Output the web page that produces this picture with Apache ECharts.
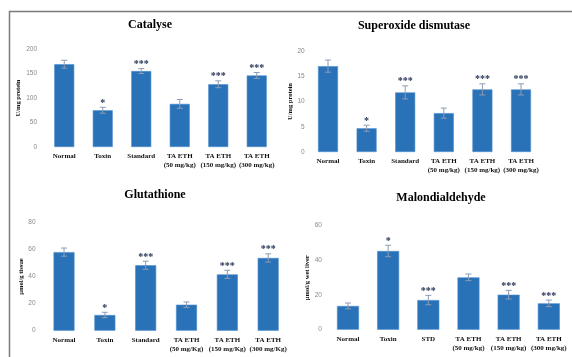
<!DOCTYPE html>
<html>
<head>
<meta charset="utf-8">
<script src="https://cdn.jsdelivr.net/npm/echarts@6/dist/echarts.min.js"></script>
<style>
  html, body { margin: 0; padding: 0; background: #fff; }
  #chartmain { width: 572px; height: 357px; }
</style>
</head>
<body>
<div id="chartmain"></div>
<script>
// groups on the x axis
var catsStd = ['Normal', 'Toxin', 'Standard', 'TA ETH\n(50 mg/kg)', 'TA ETH\n(150 mg/kg)', 'TA ETH\n(300 mg/kg)'];
var catsGsh = ['Normal', 'Toxin', 'Standard', 'TA ETH\n(50 mg/Kg)', 'TA ETH\n(150 mg/Kg)', 'TA ETH\n(300 mg/Kg)'];
var catsMda = ['Normal', 'Toxin', 'STD', 'TA ETH\n(50 mg/kg)', 'TA ETH\n(150 mg/kg)', 'TA ETH\n(300 mg/kg)'];

// means and errors
var catalase = [169, 75, 155, 88, 128, 146];
var catalaseErr = [8, 6, 5, 9, 7, 6];
var sod = [17.0, 4.7, 11.8, 7.7, 12.4, 12.4];
var sodErr = [1.2, 0.6, 1.3, 1.0, 1.1, 1.1];
var gsh = [58, 11.6, 48.3, 19.2, 41.6, 53.7];
var gshErr = [3, 2, 3, 2, 3, 3];
var mda = [13.7, 45.4, 17.1, 30.2, 20.2, 15.2];
var mdaErr = [1.7, 3.3, 2.7, 1.9, 2.5, 1.9];

// significance marks
var stars = ['', '*', '***', '', '***', '***'];

// y axis ticks: [max, interval]
var catalaseTicks = [200, 50];
var sodTicks = [20, 5];
var gshTicks = [80, 20];
var mdaTicks = [60, 20];

var serif = '"Liberation Serif", "Times New Roman", serif';
var barColor = '#2a72b8';

function errRender(params, api) {
    var x = api.value(0), v = api.value(1), e = api.value(2);
    var hi = api.coord([x, v + e]);
    var lo = api.coord([x, v - e]);
    var w = 3;
    var st = { stroke: '#8e9cb2', lineWidth: 1 };
    var ch = [
        { type: 'line', shape: { x1: hi[0], y1: hi[1], x2: lo[0], y2: lo[1] }, style: st },
        { type: 'line', shape: { x1: hi[0] - w, y1: hi[1], x2: hi[0] + w, y2: hi[1] }, style: st },
        { type: 'line', shape: { x1: lo[0] - w, y1: lo[1], x2: lo[0] + w, y2: lo[1] }, style: st }
    ];
    var s = stars[params.dataIndex];
    if (s) {
        ch.push({
            type: 'text',
            style: {
                text: s, x: hi[0], y: hi[1] + 1, align: 'center', verticalAlign: 'bottom',
                fill: '#1f2d4f', font: 'bold 10px ' + serif
            }
        });
    }
    return { type: 'group', children: ch };
}

var panels = [
    { title: 'Catalyse', tx: 150, ty: 19, name: 'U/mg protein', gap: 22, lm: 8,
      grid: [45, 49, 231, 98], cats: catsStd, vals: catalase, errs: catalaseErr, ticks: catalaseTicks, bw: 20 },
    { title: 'Superoxide dismutase', tx: 414, ty: 20, name: 'U/mg protein', gap: 14, lm: 4,
      grid: [308.7, 51, 231.6, 101], cats: catsStd, vals: sod, errs: sodErr, ticks: sodTicks, bw: 20 },
    { title: 'Glutathione', tx: 155, ty: 189, name: 'µmol/g tissue', gap: 17, lm: 8,
      grid: [43.6, 222.3, 245, 108.4], cats: catsGsh, vals: gsh, errs: gshErr, ticks: gshTicks, bw: 21 },
    { title: 'Malondialdehyde', tx: 441, ty: 192, name: 'µmol/g wet liver', gap: 17, lm: 6,
      grid: [327.9, 225.7, 241, 104], cats: catsMda, vals: mda, errs: mdaErr, ticks: mdaTicks, bw: 22 }
];

var option = {
    animation: false,
    title: [], grid: [], xAxis: [], yAxis: [], series: [],
    graphic: [
        { type: 'line', shape: { x1: 9, y1: 11.5, x2: 572, y2: 11.5 }, style: { stroke: '#7a7a7a', lineWidth: 1.5 } },
        { type: 'line', shape: { x1: 9.5, y1: 11, x2: 9.5, y2: 357 }, style: { stroke: '#7a7a7a', lineWidth: 1.5 } }
    ]
};

panels.forEach(function (p, i) {
    option.title.push({
        text: p.title, left: p.tx, top: p.ty, textAlign: 'center', padding: 0,
        textStyle: { fontFamily: serif, fontWeight: 'bold', fontSize: 12, color: '#000' }
    });
    option.grid.push({ left: p.grid[0], top: p.grid[1], width: p.grid[2], height: p.grid[3] });
    option.xAxis.push({
        type: 'category', gridIndex: i, data: p.cats,
        axisLine: { show: false }, axisTick: { show: false },
        axisLabel: { interval: 0, margin: 5, fontFamily: serif, fontWeight: 'bold', fontSize: 7, color: '#111', lineHeight: 9 }
    });
    option.yAxis.push({
        type: 'value', gridIndex: i, min: 0, max: p.ticks[0], interval: p.ticks[1],
        name: p.name, nameLocation: 'middle', nameGap: p.gap, nameRotate: 90,
        nameTextStyle: { fontFamily: serif, fontWeight: 'bold', fontSize: 6.5, color: '#111' },
        axisLine: { show: false }, axisTick: { show: false }, splitLine: { show: false },
        axisLabel: { margin: p.lm, fontFamily: '"Liberation Sans", sans-serif', fontSize: 6.5, color: '#8a8a8a' }
    });
    option.series.push({
        type: 'bar', xAxisIndex: i, yAxisIndex: i, data: p.vals, barWidth: p.bw,
        itemStyle: { color: barColor, borderColor: '#4f8fcf', borderWidth: 0.6 }
    });
    option.series.push({
        type: 'custom', xAxisIndex: i, yAxisIndex: i, renderItem: errRender, z: 5,
        data: p.vals.map(function (v, k) { return [k, v, p.errs[k]]; })
    });
});

var myChart = echarts.init(document.getElementById('chartmain'));
myChart.setOption(option);
</script>
</body>
</html>
